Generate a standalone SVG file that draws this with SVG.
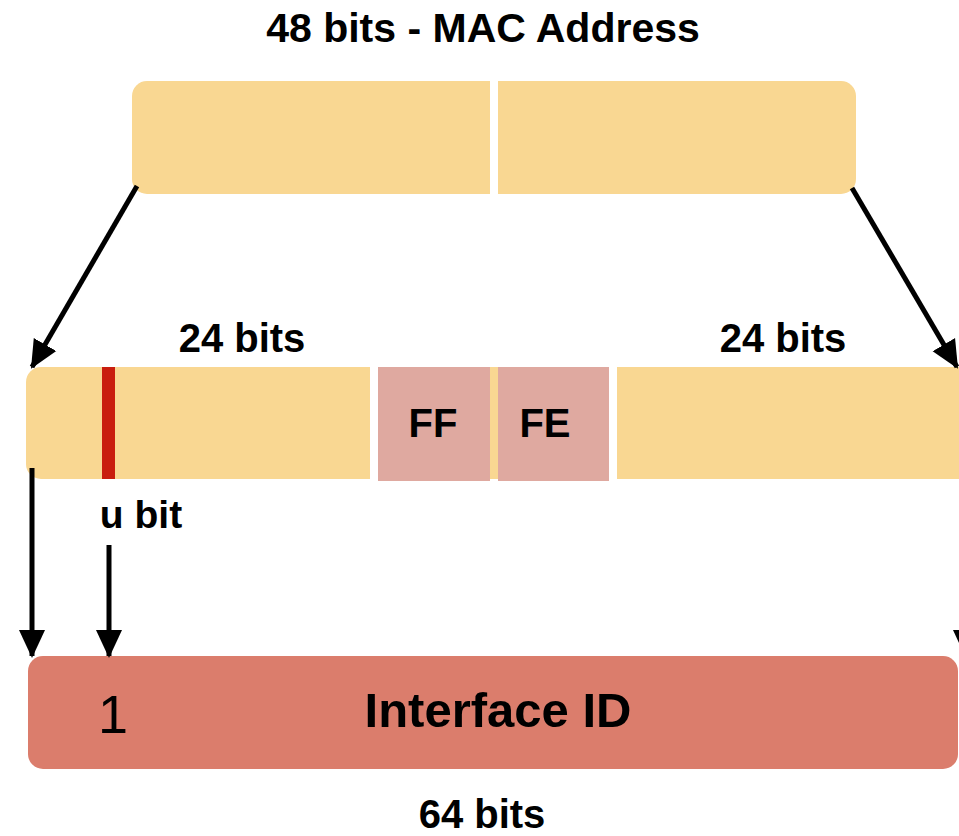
<svg xmlns="http://www.w3.org/2000/svg" width="959" height="836" viewBox="0 0 959 836">
  <style>
    .lbl { font-family: "Liberation Sans", Arial, sans-serif; font-weight: bold; fill: #000; text-anchor: middle; }
    .mac { fill: #F9D792; }
    .pad { fill: #DFA9A0; }
    .gap { fill: #FFFFFF; }
    .conn { stroke: #000; stroke-width: 5; fill: none; }
  </style>
  <defs>
    <marker id="head" markerUnits="userSpaceOnUse" markerWidth="28" markerHeight="28" viewBox="0 0 28 28" refX="26" refY="14" orient="auto">
      <polygon points="0,1 28,14 0,27" fill="#000"/>
    </marker>
  </defs>

  <!-- Title -->
  <text class="lbl" x="483" y="42" font-size="41">48 bits - MAC Address</text>

  <!-- 48-bit MAC address, two 24-bit halves -->
  <g id="mac-address">
    <rect class="mac" x="132" y="81" width="724" height="113" rx="15" ry="15"/>
    <rect class="gap" x="490" y="78" width="8" height="120"/>
  </g>

  <!-- Expanded 64-bit layout with FFFE inserted -->
  <g id="eui64-layout">
    <rect class="mac" x="26" y="367" width="950" height="112" rx="15" ry="15"/>
    <rect class="gap" x="370" y="364" width="8" height="120"/>
    <rect class="gap" x="609" y="364" width="8" height="120"/>
    <rect id="u-bit" x="102" y="367" width="13" height="112" fill="#C91D0E"/>
  </g>
  <g id="ff">
    <rect class="pad" x="378" y="367" width="112" height="114"/>
    <text class="lbl" x="433" y="437" font-size="40">FF</text>
  </g>
  <g id="fe">
    <rect class="pad" x="498" y="367" width="111" height="114"/>
    <text class="lbl" x="545" y="437" font-size="40">FE</text>
  </g>

  <text class="lbl" x="242" y="352" font-size="40">24 bits</text>
  <text class="lbl" x="783" y="352" font-size="40">24 bits</text>
  <text class="lbl" x="141" y="528" font-size="39">u bit</text>

  <!-- Resulting interface identifier -->
  <g id="interface-id">
    <rect x="28" y="656" width="930" height="113" rx="15" ry="15" fill="#DB7D6C"/>
    <text x="113" y="733" font-family="Liberation Sans, Arial, sans-serif" font-size="54" text-anchor="middle" fill="#000">1</text>
    <text class="lbl" x="498" y="727" font-size="49">Interface ID</text>
  </g>

  <text class="lbl" x="482" y="828" font-size="40">64 bits</text>

  <!-- Connectors -->
  <g id="connectors">
    <line class="conn" x1="137" y1="186" x2="32" y2="367" marker-end="url(#head)"/>
    <line class="conn" x1="852" y1="188" x2="957" y2="367" marker-end="url(#head)"/>
    <line class="conn" x1="32" y1="468" x2="32" y2="656" marker-end="url(#head)"/>
    <line class="conn" x1="109" y1="545" x2="109" y2="656" marker-end="url(#head)"/>
    <line class="conn" x1="966" y1="468" x2="966" y2="656" marker-end="url(#head)"/>
  </g>
</svg>
